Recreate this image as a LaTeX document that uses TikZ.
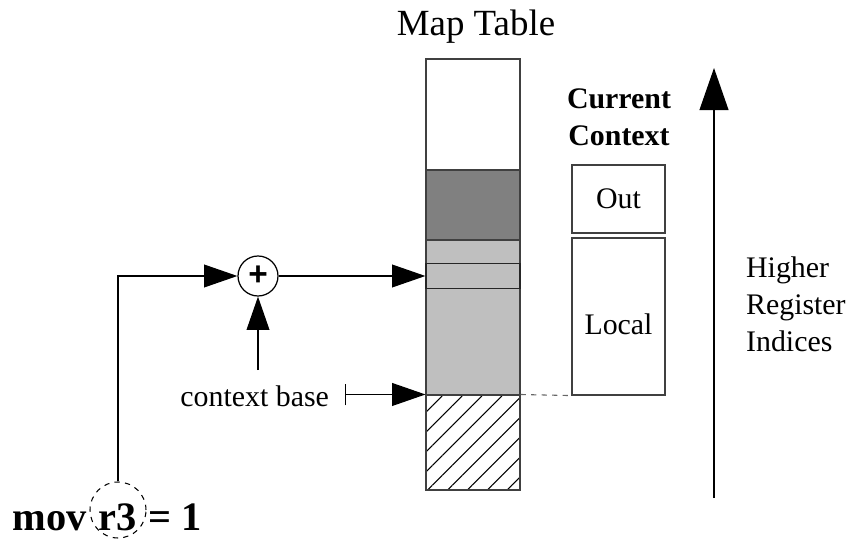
\documentclass[tikz,border=0pt]{standalone}
\usepackage{fontspec}
\setmainfont{Liberation Serif}
\newfontfamily\plusfont{Liberation Sans}
\usetikzlibrary{arrows.meta, patterns.meta, positioning}

\begin{document}
\begin{tikzpicture}[x=0.02cm, y=-0.02cm, line width=0.7pt,
  cell/.style={draw=black!75, minimum width=1.88cm, inner sep=0pt},
  ctxbox/.style={draw=black!75, minimum width=1.86cm, inner sep=0pt,
    font=\fontsize{17}{21}\selectfont},
  txt/.style={font=\fontsize{17}{21}\selectfont, inner sep=2pt, align=left},
  bigtxt/.style={font=\bfseries\fontsize{23}{27}\selectfont, inner sep=0pt},
  ptr/.style={-{Triangle[length=19pt,width=13pt]}},
  barptr/.style={{Bar[width=12.5pt]}-{Triangle[length=19pt,width=13pt]}},
  bigptr/.style={-{Triangle[length=24pt,width=16.5pt]}}]

\useasboundingbox (0,0) rectangle (848,540);

% map table column
\node[cell, minimum height=2.22cm] (free) at (473,114.5) {};
\node[cell, minimum height=1.4cm, fill=black!50] (dark) at (473,205) {};
\node[cell, minimum height=3.1cm, fill=black!25] (light) at (473,317.5) {};
\node[cell, minimum height=1.9cm,
  pattern={Lines[angle=45,distance=8pt,line width=0.6pt]}] (hatch) at (473,442.5) {};
\node[cell, draw=black!85, minimum height=0.5cm, fill=black!25] (slot) at (473,276) {};
\node[txt, font=\fontsize{21}{25}\selectfont] (title) at (476,27) {Map Table};

% current context
\node[txt, font=\bfseries\fontsize{17}{21}\selectfont, align=center] (cur) at (619,117) {Current\\Context};
\node[ctxbox, minimum height=1.36cm] (out) at (618.5,199) {Out};
\node[ctxbox, minimum height=3.14cm] (local) at (618.5,316.5) {\raisebox{-0.16cm}[\height][\depth]{Local}};
\draw[dashed, draw=black!60, line width=0.6pt] (hatch.north east) -- (local.south west);

% register indices
\coordinate (lo) at (714,498);
\coordinate (hi) at (714,68);
\draw[bigptr] (lo) -- (hi);
\node[txt, anchor=west] (idx) at (742,304) {Higher\\Register\\Indices};

% adder
\node[draw, circle, minimum size=0.8cm, inner sep=0pt, font=\plusfont\bfseries\fontsize{19}{19}\selectfont] (plus) at (258,276) {+};
\node[txt, anchor=east] (ctxbase) at (333,396) {context base};
\coordinate (cbup) at (258,370);
\draw[ptr] (cbup) -- (plus.south);
\draw[barptr] ([xshift=0.24cm]ctxbase.east |- hatch.north west) -- (hatch.north west);
\draw[ptr] (plus.east) -- (slot.west);

% instruction
\node[bigtxt, anchor=base west] (mov) at (12,530) {mov};
\node[bigtxt, anchor=base] (reg) at (118,530) {r3};
\node[draw, dashed, circle, minimum size=1.12cm, line width=0.6pt] (r3) at (118,510) {};
\node[bigtxt, anchor=base west] (eq) at (148,530) {= 1};
\draw[ptr] (r3.north) |- (plus.west);

\end{tikzpicture}
\end{document}
